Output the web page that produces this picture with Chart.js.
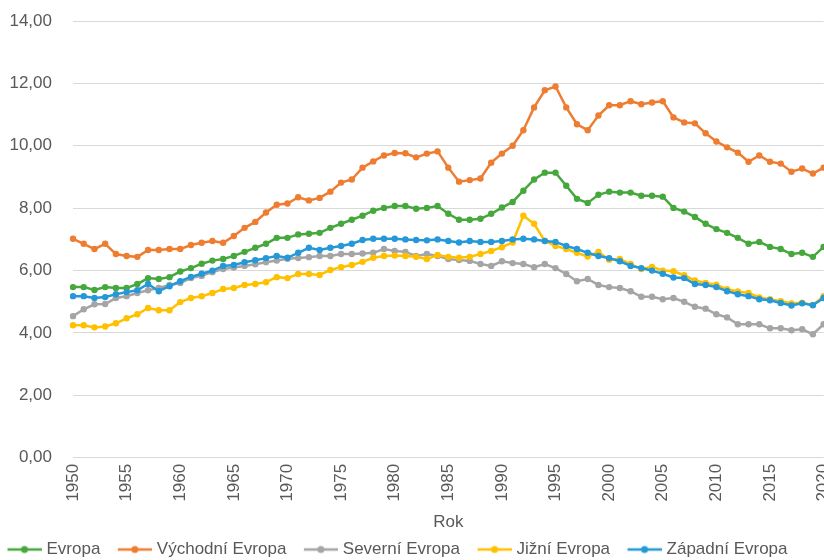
<!DOCTYPE html>
<html>
<head>
<meta charset="utf-8">
<script src="https://cdn.jsdelivr.net/npm/chart.js@4"></script>
<style>
  body { margin: 0; background: #fff; }
  #box { width: 824px; height: 560px; overflow: hidden; position: relative; }
  #graf { position: absolute; left: 0; top: 0; }
</style>
</head>
<body>
<div id="box"><canvas id="graf" width="850" height="560"></canvas></div>
<script>
// roky 1950 - 2020
var roky = [];
for (var r = 1950; r <= 2020; r++) roky.push(String(r));

var evropa = [
  5.47, 5.47, 5.38, 5.47, 5.44, 5.44, 5.57, 5.76, 5.73, 5.79,
  5.97, 6.08, 6.22, 6.32, 6.37, 6.47, 6.60, 6.73, 6.86, 7.05,
  7.05, 7.16, 7.18, 7.21, 7.37, 7.50, 7.63, 7.76, 7.92, 8.01,
  8.07, 8.07, 7.98, 8.01, 8.07, 7.82, 7.63, 7.63, 7.66, 7.82,
  8.02, 8.20, 8.56, 8.92, 9.14, 9.14, 8.72, 8.30, 8.17, 8.43,
  8.53, 8.50, 8.50, 8.40, 8.40, 8.37, 8.01, 7.89, 7.72, 7.50,
  7.33, 7.21, 7.05, 6.86, 6.92, 6.76, 6.69, 6.53, 6.57, 6.44,
  6.76
];
var vychodni = [
  7.02, 6.86, 6.69, 6.86, 6.53, 6.47, 6.44, 6.66, 6.66, 6.69,
  6.69, 6.82, 6.89, 6.95, 6.89, 7.11, 7.37, 7.56, 7.86, 8.11,
  8.15, 8.35, 8.25, 8.33, 8.53, 8.82, 8.92, 9.30, 9.50, 9.69,
  9.77, 9.76, 9.63, 9.75, 9.82, 9.30, 8.85, 8.90, 8.95, 9.46,
  9.75, 10.00, 10.50, 11.23, 11.78, 11.90, 11.23, 10.69, 10.50, 10.97,
  11.30, 11.30, 11.43, 11.33, 11.39, 11.43, 10.91, 10.75, 10.72, 10.40,
  10.14, 9.95, 9.78, 9.49, 9.69, 9.49, 9.43, 9.17, 9.27, 9.11,
  9.30
];
var severni = [
  4.54, 4.76, 4.92, 4.93, 5.12, 5.18, 5.28, 5.37, 5.44, 5.54,
  5.60, 5.76, 5.83, 5.95, 6.05, 6.10, 6.15, 6.20, 6.27, 6.32,
  6.38, 6.40, 6.43, 6.47, 6.47, 6.53, 6.53, 6.55, 6.57, 6.69,
  6.63, 6.60, 6.47, 6.53, 6.47, 6.37, 6.34, 6.31, 6.21, 6.15,
  6.30, 6.24, 6.21, 6.11, 6.21, 6.08, 5.89, 5.66, 5.73, 5.54,
  5.47, 5.44, 5.34, 5.16, 5.16, 5.08, 5.12, 5.00, 4.84, 4.78,
  4.60, 4.50, 4.28, 4.28, 4.28, 4.15, 4.15, 4.09, 4.12, 3.96,
  4.28
];
var jizni = [
  4.25, 4.25, 4.18, 4.21, 4.31, 4.47, 4.60, 4.80, 4.73, 4.73,
  4.99, 5.12, 5.18, 5.28, 5.41, 5.44, 5.54, 5.57, 5.63, 5.79,
  5.76, 5.89, 5.89, 5.86, 6.02, 6.11, 6.18, 6.28, 6.41, 6.47,
  6.48, 6.47, 6.44, 6.37, 6.50, 6.44, 6.41, 6.44, 6.53, 6.63,
  6.75, 6.90, 7.76, 7.50, 6.95, 6.79, 6.69, 6.57, 6.45, 6.60,
  6.35, 6.37, 6.21, 6.05, 6.12, 6.00, 5.98, 5.85, 5.68, 5.60,
  5.55, 5.40, 5.33, 5.28, 5.14, 5.08, 5.02, 4.95, 4.97, 4.90,
  5.18
];
var zapadni = [
  5.18, 5.18, 5.12, 5.15, 5.24, 5.31, 5.37, 5.57, 5.34, 5.50,
  5.66, 5.80, 5.90, 6.00, 6.15, 6.18, 6.27, 6.33, 6.40, 6.47,
  6.41, 6.57, 6.73, 6.66, 6.73, 6.79, 6.86, 6.98, 7.02, 7.02,
  7.02, 7.00, 6.98, 6.97, 7.00, 6.95, 6.90, 6.95, 6.92, 6.92,
  6.95, 7.00, 7.02, 7.00, 6.95, 6.92, 6.79, 6.69, 6.57, 6.47,
  6.40, 6.30, 6.15, 6.08, 6.00, 5.90, 5.78, 5.76, 5.57, 5.54,
  5.47, 5.34, 5.24, 5.18, 5.08, 5.05, 4.96, 4.88, 4.95, 4.89,
  5.12
];

var nazvy = ['Evropa', 'Východní Evropa', 'Severní Evropa', 'Jižní Evropa', 'Západní Evropa'];
var barvy = ['#46a83c', '#ee7d31', '#a5a5a5', '#ffc000', '#2598d8'];
var rady = [evropa, vychodni, severni, jizni, zapadni];

var pismo = { family: 'Liberation Sans', size: 17 };
var sedy = '#595959';

// znacka do legendy: cara s koleckem (vlevo prazdne misto kvuli rozestupum)
function znacka(barva) {
  var c = document.createElement('canvas');
  c.width = 55; c.height = 10;
  var g = c.getContext('2d');
  g.strokeStyle = barva; g.lineWidth = 2.5;
  g.beginPath(); g.moveTo(21, 5); g.lineTo(55, 5); g.stroke();
  g.fillStyle = barva;
  g.beginPath(); g.arc(38, 5, 3.5, 0, Math.PI * 2); g.fill();
  return c;
}

// posune legendu trochu doleva a dolu jako v predloze
const posunLegendy = {
  id: 'posunLegendy',
  afterLayout: function (chart) {
    var l = chart.legend;
    l.left -= 18; l.right -= 18;
    l.top += 8; l.bottom += 8;
  }
};

var datasets = [];
for (var i = 0; i < rady.length; i++) {
  datasets.push({
    label: nazvy[i],
    data: rady[i],
    borderColor: barvy[i],
    backgroundColor: barvy[i],
    borderWidth: 2.5,
    pointRadius: 3.2,
    pointHoverRadius: 3.2,
    pointBorderWidth: 0,
    tension: 0,
    order: rady.length - i
  });
}

const ctx = document.getElementById('graf').getContext('2d');
const graf = new Chart(ctx, {
  type: 'line',
  data: { labels: roky, datasets: datasets },
  plugins: [posunLegendy],
  options: {
    responsive: false,
    animation: false,
    devicePixelRatio: 1,
    layout: { padding: { left: 8, top: 21, right: 0, bottom: 0 } },
    plugins: {
      tooltip: { enabled: false },
      legend: {
        position: 'bottom',
        align: 'start',
        labels: {
          usePointStyle: true,
          pointStyleWidth: 48,
          padding: 0,
          color: sedy,
          font: pismo,
          sort: function (a, b) { return a.datasetIndex - b.datasetIndex; },
          generateLabels: function (chart) {
            var items = Chart.defaults.plugins.legend.labels.generateLabels(chart);
            items.forEach(function (it) { it.pointStyle = znacka(barvy[it.datasetIndex]); });
            return items;
          }
        }
      }
    },
    scales: {
      x: {
        grid: { display: false, drawTicks: false },
        border: { display: false },
        ticks: {
          autoSkip: false,
          minRotation: 90,
          maxRotation: 90,
          padding: 6,
          color: sedy,
          font: pismo,
          callback: function (v, idx) {
            var rok = Number(roky[idx]);
            return rok % 5 === 0 ? roky[idx] : '';
          }
        },
        title: {
          display: true,
          text: 'Rok',
          color: sedy,
          font: pismo,
          padding: { top: 5, bottom: 0 }
        }
      },
      y: {
        min: 0,
        max: 14,
        afterFit: function (s) { s.width = 65; },
        grid: { color: '#d9d9d9', lineWidth: 1, drawTicks: true, tickLength: 21, tickColor: 'rgba(0,0,0,0)' },
        border: { display: false },
        ticks: {
          stepSize: 2,
          padding: 0,
          color: sedy,
          font: pismo,
          callback: function (v) { return v.toFixed(2).replace('.', ','); }
        }
      }
    }
  }
});
</script>
</body>
</html>
